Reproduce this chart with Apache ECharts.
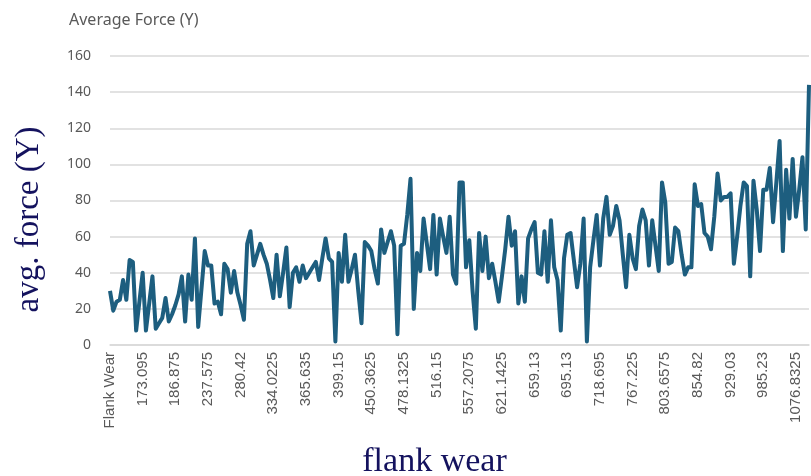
<!DOCTYPE html>
<html>
<head>
<meta charset="utf-8">
<script src="https://cdn.jsdelivr.net/npm/echarts@6/dist/echarts.min.js"></script>
<style>
  html, body { margin: 0; padding: 0; background: #fff; }
  #chart { width: 811px; height: 476px; }
</style>
</head>
<body>
<div id="chart"></div>
<script>
// 显示出来的x轴标签（每10个类目一个）
const tickLabels = ['Flank Wear', '173.095', '186.875', '237.575', '280.42', '334.0225', '365.635',
  '399.15', '450.3625', '478.1325', '516.15', '557.2075', '621.1425', '659.13', '695.13',
  '718.695', '767.225', '803.6575', '854.82', '929.03', '985.23', '1076.8325'];
const labelStep = 10;

// 平均力
const forceA = [30, 19, 24, 25, 36, 25, 47, 46, 8, 24, 40, 8, 23, 38, 9, 12, 15, 26, 13, 17,
  22, 28, 38, 13, 39, 25, 59, 10, 31, 52, 44, 44, 23, 24, 17, 45, 42, 29, 41, 29,
  22, 14, 56, 63, 44, 50, 56, 50, 45];
const forceB = [36, 26, 50, 27, 40, 54, 21, 40, 43, 35, 44, 37, 40, 43, 46, 36, 48, 59, 48, 46,
  2, 51, 35, 61, 35, 42, 50, 30, 12, 57, 55, 52, 42, 34, 64, 51, 57, 63, 55, 6,
  55, 56, 72, 92, 20, 51, 41, 70, 56, 42, 72, 39, 70];
const forceC = [60, 51, 71, 39, 34, 90, 90, 43, 58, 30, 9, 62, 41, 60, 37, 45, 35, 24, 38, 53,
  71, 55, 63, 23, 38, 24, 59, 64, 68, 40, 39, 63, 35, 69, 43, 36, 8, 48, 61, 62,
  47, 32, 45, 70, 2, 43, 58, 72, 44, 70];
const forceD = [82, 61, 66, 77, 69, 50, 32, 61, 48, 42, 66, 75, 69, 44, 69, 55, 41, 90, 79, 45,
  46, 65, 63, 50, 39, 43, 43, 89, 77, 78, 62, 60, 53, 71, 95, 80, 82, 82, 84, 45,
  60, 77, 90, 88, 38, 91, 75, 52, 86, 86, 98, 68, 90, 113, 52, 97, 70, 103, 71, 86,
  104, 64, 144];

const yTicks = { min: 0, max: 160, interval: 20 };

const force = forceA.concat(forceB, forceC, forceD);
const categories = force.map((v, i) => (i % labelStep === 0 && tickLabels[i / labelStep]) ? tickLabels[i / labelStep] : '');

const chart = echarts.init(document.getElementById('chart'));
const option = {
  animation: false,
  title: {
    text: 'Average Force (Y)',
    left: 64,
    top: 7,
    textStyle: { fontFamily: 'Noto Sans', fontSize: 16, fontWeight: 'normal', color: '#595959' }
  },
  grid: { left: 110, right: 2, top: 56, bottom: 131, outerBoundsMode: 'none' },
  xAxis: {
    type: 'category',
    data: categories,
    boundaryGap: false,
    name: 'flank wear',
    nameLocation: 'middle',
    nameGap: 100,
    nameTextStyle: { fontFamily: 'Liberation Serif', fontSize: 34, color: '#14125e', padding: [0, 50, 0, 0] },
    axisLine: { lineStyle: { color: '#d9d9d9', width: 1.5 } },
    axisTick: { show: false },
    axisLabel: {
      interval: labelStep - 1,
      rotate: 90,
      margin: 7,
      fontFamily: 'Liberation Sans',
      fontSize: 15,
      color: '#595959'
    },
    splitLine: { show: false }
  },
  yAxis: {
    type: 'value',
    min: yTicks.min,
    max: yTicks.max,
    interval: yTicks.interval,
    name: 'avg. force (Y)',
    nameLocation: 'middle',
    nameGap: 64,
    nameTextStyle: { fontFamily: 'Liberation Serif', fontSize: 33, color: '#14125e', padding: [0, 38, 0, 0] },
    axisLine: { show: false },
    axisTick: { show: false },
    axisLabel: { margin: 19, fontFamily: 'Noto Sans', fontSize: 14, color: '#595959' },
    splitLine: { lineStyle: { color: '#d9d9d9', width: 1.5 } }
  },
  series: [{
    name: 'Average Force (Y)',
    type: 'line',
    data: force,
    showSymbol: false,
    lineStyle: { color: '#1d5e7f', width: 4, join: 'round' },
    itemStyle: { color: '#1d5e7f' }
  }]
};
chart.setOption(option);
</script>
</body>
</html>
